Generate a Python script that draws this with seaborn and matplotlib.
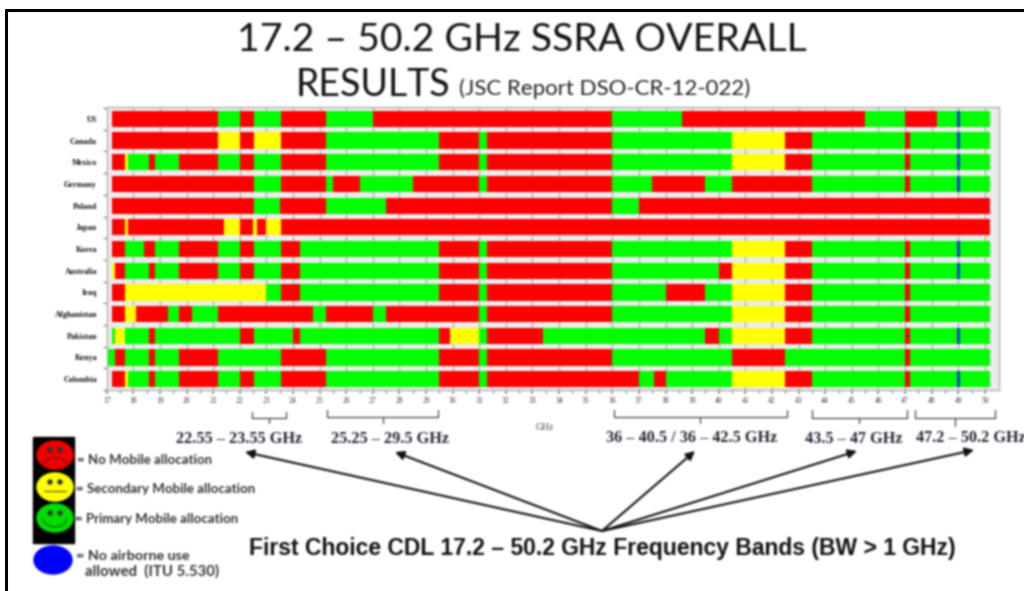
import numpy as np
import pandas as pd
import matplotlib.pyplot as plt
import seaborn as sns
from matplotlib.lines import Line2D
from matplotlib.patches import Ellipse, Arc, Rectangle

countries = ["US", "Canada", "Mexico", "Germany", "Poland", "Japan", "Korea",
             "Australia", "Iraq", "Afghanistan", "Pakistan", "Kenya", "Colombia"]

# end frequency of every segment (GHz) and its state, left to right
# N = empty, R = no mobile, Y = secondary, G = primary, B = no airborne
us_ends = [17.2, 21.2, 22, 22.55, 23.55, 25.25, 27, 36, 38.6, 45.5, 47, 48.2, 48.95, 49.08, 50.2]
us_states = "NRGRGRGRGRGRGBG"
canada_ends = [17.2, 21.2, 22, 22.55, 23.55, 25.25, 29.5, 31, 31.3, 36, 40.5, 42.5, 43.5, 47, 47.2, 48.95, 49.08, 50.2]
canada_states = "NRYRYRGRGRGYRGRGBG"
mexico_ends = [17.2, 17.7, 17.8, 18.6, 18.8, 19.7, 21.2, 22, 22.55, 23.55, 25.25, 29.5, 31, 31.3, 36, 40.5, 42.5, 43.5, 47, 47.2, 48.95, 49.08, 50.2]
mexico_states = "NRYGRGRGRGRGRGRGYRGRGBG"
germany_ends = [17.2, 22.55, 23.55, 25.25, 25.5, 26.5, 28.5, 31, 31.3, 36, 37.5, 39.5, 40.5, 43.5, 47, 47.2, 48.95, 49.08, 50.2]
germany_states = "NRGRGRGRGRGRGRGRGBG"
poland_ends = [17.2, 22.55, 23.5, 25.25, 27.5, 36, 37, 50.2]
poland_states = "NRGRGRGR"
japan_ends = [17.2, 17.7, 17.8, 21.4, 22, 22.5, 22.65, 23, 23.55, 50.2]
japan_states = "NRYRYRYRYR"
korea_ends = [17.2, 17.7, 18.4, 18.8, 19.7, 21.2, 22, 22.55, 23.55, 24.25, 29.5, 31, 31.3, 36, 40.5, 42.5, 43.5, 47, 47.2, 48.95, 49.08, 50.2]
korea_states = "NRGRGRGRGRGRGRGYRGRGBG"
australia_ends = [17.2, 17.3, 17.7, 18.6, 18.8, 19.7, 21.2, 22, 22.55, 23.55, 24.25, 29.5, 31, 31.3, 36, 40, 40.5, 42.5, 43.5, 47, 47.2, 48.95, 49.08, 50.2]
australia_states = "NYRGRGRGRGRGRGRGRYRGRGBG"
iraq_ends = [17.2, 17.7, 23, 23.55, 24.25, 29.5, 31, 31.3, 36, 38, 39.5, 40.5, 42.5, 43.5, 47, 47.2, 50.2]
iraq_states = "NRYGRGRGRGRGYRGRG"
afghanistan_ends = [17.2, 17.7, 18.1, 19.3, 19.7, 20.2, 21.2, 24.75, 25.25, 27, 27.5, 31, 31.3, 36, 40.5, 42.5, 43.5, 47, 47.2, 50.2]
afghanistan_states = "NRYRGRGRGRGRGRGYRGRG"
pakistan_ends = [17.2, 17.3, 17.7, 18.6, 18.8, 22, 22.55, 24, 24.25, 29.5, 29.9, 31, 31.3, 33.4, 39.5, 40, 40.5, 42.5, 43.5, 47, 47.2, 48.95, 49.08, 50.2]
pakistan_states = "NGYGRGRGRGRYGRGRGYRGRGBG"
kenya_ends = [17.3, 17.7, 18.6, 18.8, 19.7, 21.2, 23.55, 25.25, 29.5, 31, 31.3, 36, 40.5, 42.5, 47, 47.2, 50.2]
kenya_states = "GRGRGRGRGRGRGRGRG"
colombia_ends = [17.2, 17.7, 17.8, 18.6, 18.8, 19.7, 21.2, 22, 22.55, 23.55, 25.25, 29.5, 31, 31.3, 37, 37.55, 38, 40.5, 42.5, 43.5, 47, 47.2, 48.95, 49.08, 50.2]
colombia_states = "NRYGRGRGRGRGRGRGRGYRGRGBG"

all_ends = [us_ends, canada_ends, mexico_ends, germany_ends, poland_ends, japan_ends, korea_ends,
            australia_ends, iraq_ends, afghanistan_ends, pakistan_ends, kenya_ends, colombia_ends]
all_states = [us_states, canada_states, mexico_states, germany_states, poland_states, japan_states, korea_states,
              australia_states, iraq_states, afghanistan_states, pakistan_states, kenya_states, colombia_states]

freq_ticks = list(range(17, 51))

palette = {"N": "#ececec", "R": "#ff0000", "Y": "#ffff00", "G": "#00ff00", "B": "#0a3fd0"}


# the original is a low resolution screenshot, so soften what gets drawn
def soften(im, dpi):
    pad = 3
    kernel = np.array([1, 4, 6, 4, 1]) / 16
    out = np.pad(im, [(pad, pad), (pad, pad), (0, 0)])
    out[..., :3] *= out[..., 3:]
    for axis in (0, 1):
        out = np.apply_along_axis(np.convolve, axis, out, kernel, mode="same")
    alpha = np.clip(out[..., 3:], 1e-4, 1)
    out[..., :3] = np.clip(out[..., :3] / alpha, 0, 1)
    return out, -pad, -pad


rows = []
for name, ends, states in zip(countries, all_ends, all_states):
    for i, (end, state) in enumerate(zip(ends, states)):
        rows.append({"country": name, "seg": i, "end": end, "state": state})
df = pd.DataFrame(rows)

sns.set_theme(style="white")
plt.rcParams["font.family"] = ["Liberation Serif", "DejaVu Sans"]

fig = plt.figure(figsize=(10.24, 5.91), dpi=100)
ax = fig.add_axes([106.7 / 1024, 1 - 390 / 591, (999 - 106.7) / 1024, (390 - 107) / 591])
ax.set_facecolor("#ececec")

# bars all start at zero, so draw the last segment first and paint over it
for seg in sorted(df["seg"].unique(), reverse=True):
    sns.barplot(data=df[df["seg"] == seg], y="country", x="end", hue="state", order=countries,
                palette=palette, dodge=False, width=0.75, saturation=1, errorbar=None,
                legend=False, linewidth=0, ax=ax)

ax.set_xlim(17, 50.53)
ax.set_ylim(12.46, -0.55)
ax.set_xlabel("")
ax.set_ylabel("")
ax.set_xticks(freq_ticks)
ax.set_xticks([t + 0.5 for t in freq_ticks[:-1]], minor=True)
ax.set_yticks(range(len(countries)))
ax.set_yticks([i + 0.5 for i in range(-1, len(countries))], minor=True)
ax.set_yticklabels(countries, fontsize=5.9, fontweight="bold", color="#111111")
ax.set_xticklabels(freq_ticks, fontsize=5.5, color="#333333")
ax.tick_params(axis="y", which="major", length=0, pad=7)
ax.tick_params(axis="y", which="minor", length=3, color="#888888", left=True)
ax.tick_params(axis="x", which="major", length=3, color="#888888", pad=2, bottom=True)
ax.tick_params(axis="x", which="minor", length=2, color="#888888", bottom=True)
ax.set_axisbelow(True)
ax.xaxis.grid(True, color="#a0a0a0", lw=0.7)
for side in ax.spines.values():
    side.set_color("#b0b0b0")
    side.set_linewidth(1.0)
ax.set_agg_filter(soften)

# everything around the chart lives on one overlay in pixel coordinates
top = fig.add_axes([0, 0, 1, 1], facecolor="none")
top.set_xlim(0, 1024)
top.set_ylim(591, 0)
top.axis("off")
top.set_agg_filter(soften)

# slide frame stays sharp
fig.add_artist(Line2D([6 / 1024, 6 / 1024], [0, 1 - 10 / 591], color="black", lw=2.2))
fig.add_artist(Line2D([6 / 1024, 1], [1 - 10 / 591, 1 - 10 / 591], color="black", lw=2.2))

top.text(522, 51, "17.2 – 50.2 GHz SSRA OVERALL", ha="center", va="baseline", fontsize=28.3,
         family="Lato", color="#111111")
top.text(296, 96, "RESULTS", ha="left", va="baseline", fontsize=27, family="Lato", color="#111111")
top.text(459, 95, "(JSC Report DSO-CR-12-022)", ha="left", va="baseline", fontsize=16,
         family="Lato", color="#222222")

top.text(545, 428, "GHz", ha="center", va="center", fontsize=7, color="#444444")

band_brackets = [(252, 286, 269, 412, 418, 423), (327, 438, 383, 410, 417, 423),
                 (614, 787, 700, 410, 417, 423), (812, 907, 859, 410, 418, 423),
                 (915, 995, 955, 410, 418, 426)]
for x0, x1, xm, y0, y1, y2 in band_brackets:
    top.plot([x0, x0, x1, x1], [y0, y1, y1, y0], color="#444444", lw=0.9)
    top.plot([xm, xm], [y1, y2], color="#444444", lw=0.9)

band_labels = [(239, 439, "22.55 – 23.55 GHz", "center"), (390, 439, "25.25 – 29.5 GHz", "center"),
               (692, 438, "36 – 40.5 / 36 – 42.5 GHz", "center"), (854, 439, "43.5 – 47 GHz", "center"),
               (916, 438, "47.2 – 50.2 GHz", "left")]
for x, y, label, align in band_labels:
    top.text(x, y, label, ha=align, va="center", fontsize=11.7, fontweight="bold", color="#222233",
             clip_on=True)

arrow_tips = [(245, 452), (395, 452), (695, 451), (857, 451), (974, 450)]
for tip in arrow_tips:
    top.annotate("", xy=tip, xytext=(602, 531),
                 arrowprops=dict(arrowstyle="-|>", color="#111111", lw=1.5, mutation_scale=13,
                                 shrinkA=0, shrinkB=0))

top.text(249, 548.5, "First Choice CDL 17.2 – 50.2 GHz Frequency Bands (BW > 1 GHz)", ha="left",
         va="center", fontsize=16.5, fontweight="bold", family="Liberation Sans", color="#111111")

# traffic light legend
top.add_patch(Rectangle((33, 437), 41, 106, color="black"))
faces = [(55, 455, "#ee0000", "frown"), (55, 487, "#ffff00", "flat"), (55, 518, "#00dd00", "smile")]
for cx, cy, colour, mouth in faces:
    top.add_patch(Ellipse((cx, cy), 36, 28, color=colour))
    top.add_patch(Ellipse((cx - 5, cy - 5), 4, 4, color="#333333"))
    top.add_patch(Ellipse((cx + 5, cy - 5), 4, 4, color="#333333"))
    if mouth == "frown":
        top.add_patch(Arc((cx, cy + 10), 24, 14, theta1=180, theta2=360, color="#880000", lw=0.8))
    elif mouth == "smile":
        top.add_patch(Arc((cx, cy), 24, 18, theta1=0, theta2=180, color="#006600", lw=0.8))
    else:
        top.plot([cx - 11, cx + 11], [cy + 4, cy + 4], color="#555500", lw=0.8)
top.add_patch(Ellipse((53, 560), 38, 28, color="#0000ff"))

legend_texts = [(77, 460, "= No Mobile allocation", 9.5), (76, 489, "= Secondary Mobile allocation", 9.5),
                (75, 519, "= Primary Mobile allocation", 9.5), (76, 556, "= No airborne use", 10.3),
                (85, 571, "allowed  (ITU 5.530)", 10.7)]
for x, y, label, size in legend_texts:
    top.text(x, y, label, ha="left", va="center", fontsize=size, fontweight="bold", family="Lato",
             color="#333333")

fig.savefig("out.png", dpi=100)
